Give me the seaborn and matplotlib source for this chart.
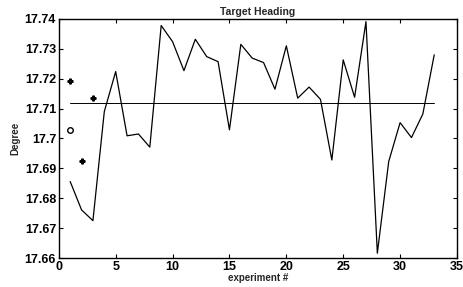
import numpy as np
import pandas as pd
import matplotlib
matplotlib.use("Agg")
import matplotlib.pyplot as plt
import seaborn as sns

experiment = list(range(1, 34))
heading = [17.6856, 17.6761, 17.6725, 17.709, 17.7224, 17.7009, 17.7015, 17.6971,
           17.7378, 17.7324, 17.7227, 17.7332, 17.7274, 17.7257, 17.7029, 17.7315,
           17.7269, 17.7254, 17.7165, 17.731, 17.7135, 17.7172, 17.7131, 17.6928,
           17.7263, 17.7138, 17.7391, 17.6616, 17.6923, 17.7053, 17.7003, 17.7082,
           17.728]
mean_heading = 17.7118
star_x = [1, 2, 3]
star_y = [17.7194, 17.6926, 17.7137]
circle_x = [1]
circle_y = [17.7029]

df = pd.DataFrame({"experiment": experiment, "heading": heading})

sns.set_style("white")
plt.rcParams['font.family'] = ['Liberation Sans', 'DejaVu Sans']
plt.rcParams['font.weight'] = 'bold'

fig = plt.figure(figsize=(4.63, 2.87), dpi=100)
ax = fig.add_axes([0.127, 0.101, 0.86, 0.833])

sns.lineplot(data=df, x="experiment", y="heading", color="black", linewidth=0.9, ax=ax)
ax.plot([experiment[0], experiment[-1]], [mean_heading, mean_heading], color="black", linewidth=0.7)
ax.plot(star_x, star_y, linestyle="none", marker="P", markersize=3.5, color="black")
ax.plot(circle_x, circle_y, linestyle="none", marker="o", markersize=4, markerfacecolor="white",
        markeredgecolor="black", markeredgewidth=1)

ax.set_xlim(0, 35)
ax.set_ylim(17.66, 17.74)
ax.set_xticks(range(0, 36, 5))
ax.set_yticks(np.round(np.arange(17.66, 17.7401, 0.01), 2))
ax.set_yticklabels(["17.66", "17.67", "17.68", "17.69", "17.7", "17.71", "17.72", "17.73", "17.74"])
ax.tick_params(direction="in", length=3, width=0.8, labelsize=9, top=True, right=True,
               bottom=True, left=True, colors="black", pad=2)
for lab in ax.get_xticklabels() + ax.get_yticklabels():
    lab.set_fontweight("bold")
for sp in ax.spines.values():
    sp.set_color("black")
    sp.set_linewidth(1.0)

ax.set_title("Target Heading", fontsize=7.5, fontweight="bold", pad=3)
ax.set_xlabel("experiment #", fontsize=7, fontweight="bold", labelpad=0)
ax.set_ylabel("Degree", fontsize=7, fontweight="bold", labelpad=3)

fig.savefig("out.png", dpi=100)
